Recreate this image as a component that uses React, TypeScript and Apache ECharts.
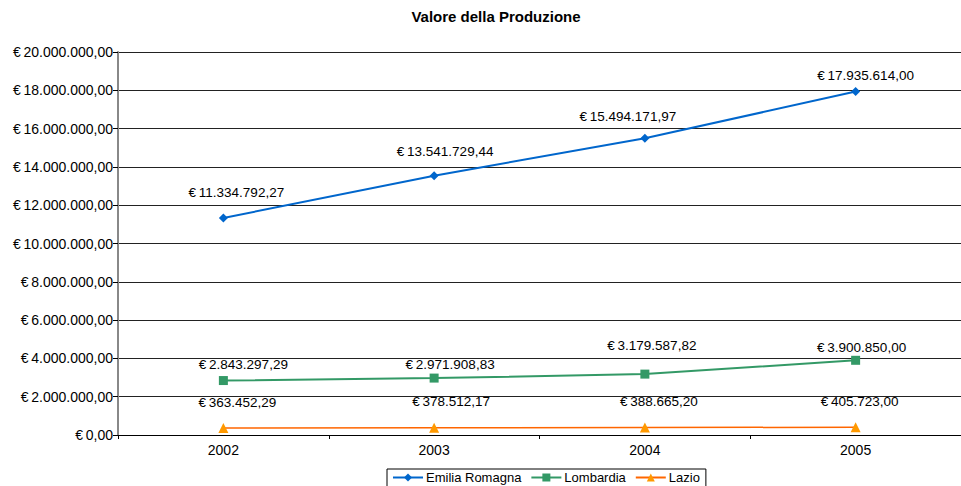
import React, { useEffect, useRef } from "react";
import * as echarts from "echarts";

const categories = ["2002", "2003", "2004", "2005"];
const emiliaRomagna = [11334792.27, 13541729.44, 15494171.97, 17935614.0];
const lombardia = [2843297.29, 2971908.83, 3179587.82, 3900850.0];
const lazio = [363452.29, 378512.17, 388665.2, 405723.0];
const seriesNames = ["Emilia Romagna", "Lombardia", "Lazio"];

// label offsets (style only)
const emiliaLabelOffsets = [[13, -9], [11, -8], [-17, -5], [10, 0]];
const lombardiaLabelOffsets = [[20, 0], [16, 3], [7, -12], [6, 4]];
const lazioLabelOffsets = [[14, -9], [17, -9], [14, -9], [4, -9]];

const FONT = "'Liberation Sans', Arial, sans-serif";

function fmtEuro(v: number): string {
  const fixed = v.toFixed(2);
  const [intPart, dec] = fixed.split(".");
  const withDots = intPart.replace(/\B(?=(\d{3})+(?!\d))/g, ".");
  return "€\u2009" + withDots + "," + dec;
}

function buildData(values: number[], offsets: number[][]) {
  return values.map((v, i) => ({ value: v, label: { offset: offsets[i] } }));
}

export default function App() {
  const ref = useRef<HTMLDivElement>(null);
  useEffect(() => {
    if (!ref.current) return;
    const chart = echarts.init(ref.current, null, { renderer: "svg" });
    const labelCfg = {
      show: true,
      position: "top",
      distance: 5,
      fontFamily: FONT,
      fontSize: 13.5,
      color: "#000",
      formatter: (p: any) => fmtEuro(p.value),
    };
    chart.setOption({
      animation: false,
      backgroundColor: "#fff",
      title: {
        text: "Valore della Produzione",
        left: 491,
        textAlign: "center",
        top: 4,
        textStyle: { fontFamily: FONT, fontSize: 15, fontWeight: "bold", color: "#000" },
      },
      legend: {
        bottom: -1,
        left: 387,
        itemGap: 9,
        itemWidth: 30,
        itemHeight: 10,
        padding: [2, 6, 3, 5],
        borderColor: "#000",
        borderWidth: 1,
        textStyle: { fontFamily: FONT, fontSize: 13, color: "#000", padding: [0, 0, 0, -2] },
        data: seriesNames,
      },
      grid: { left: 118, right: -12, top: 52, bottom: 51, containLabel: false },
      xAxis: {
        type: "category",
        data: categories,
        boundaryGap: true,
        axisLine: { lineStyle: { color: "#000", width: 1 } },
        axisTick: { show: true, length: 4, lineStyle: { color: "#000" } },
        axisLabel: { fontFamily: FONT, fontSize: 14, color: "#000", margin: 8 },
      },
      yAxis: {
        type: "value",
        min: 0,
        max: 20000000,
        interval: 2000000,
        axisLine: { show: true, lineStyle: { color: "#888", width: 2 } },
        axisTick: { show: true, length: 5, lineStyle: { color: "#000" } },
        axisLabel: {
          fontFamily: FONT,
          fontSize: 14,
          color: "#000",
          margin: 5,
          formatter: (v: number) => fmtEuro(v),
        },
        splitLine: { show: true, lineStyle: { color: "#222", width: 1 } },
      },
      series: [
        {
          name: seriesNames[0],
          type: "line",
          data: buildData(emiliaRomagna, emiliaLabelOffsets),
          symbol: "diamond",
          symbolSize: 9,
          color: "#0066CC",
          lineStyle: { width: 2, color: "#0066CC" },
          itemStyle: { color: "#0066CC" },
          label: labelCfg,
        },
        {
          name: seriesNames[1],
          type: "line",
          data: buildData(lombardia, lombardiaLabelOffsets),
          symbol: "rect",
          symbolSize: 9,
          color: "#339966",
          lineStyle: { width: 2, color: "#339966" },
          itemStyle: { color: "#339966" },
          label: labelCfg,
        },
        {
          name: seriesNames[2],
          type: "line",
          data: buildData(lazio, lazioLabelOffsets),
          symbol: "triangle",
          symbolSize: 10,
          color: "#FF9900",
          lineStyle: { width: 1.5, color: "#FF6600" },
          itemStyle: { color: "#FF9900" },
          label: labelCfg,
        },
      ],
    });
    return () => chart.dispose();
  }, []);
  return (
    <div
      ref={ref}
      style={{ position: "fixed", left: 0, top: 0, width: 961, height: 486 }}
    />
  );
}
